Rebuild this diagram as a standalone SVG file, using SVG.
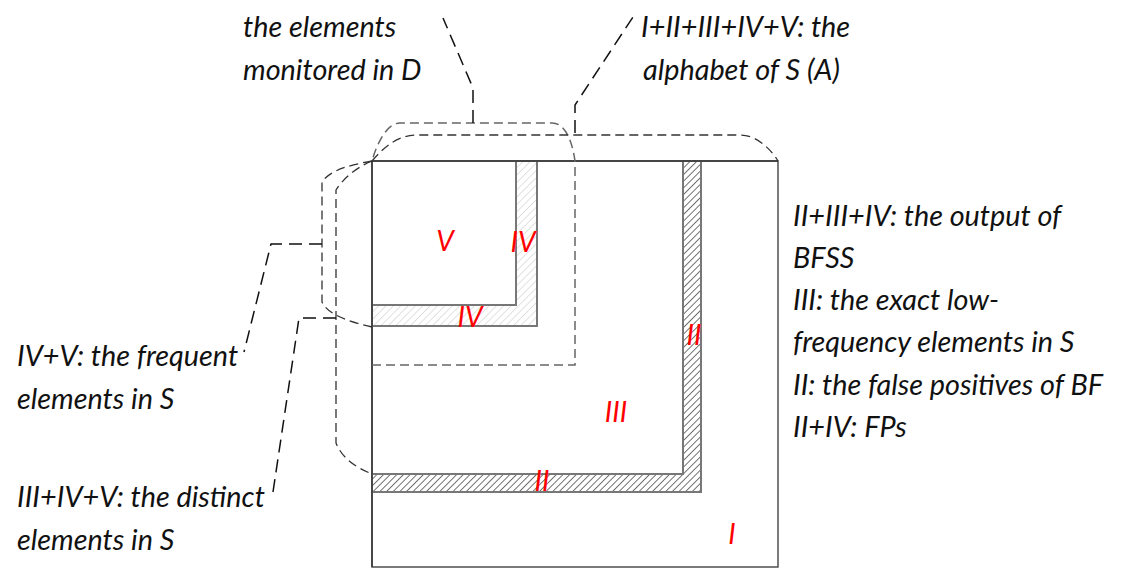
<svg xmlns="http://www.w3.org/2000/svg" width="1124" height="574" viewBox="0 0 1124 574">
<defs>
<pattern id="hatchDark" patternUnits="userSpaceOnUse" width="4.7" height="4.7" patternTransform="rotate(45)">
<rect width="4.7" height="4.7" fill="#ffffff"/>
<line x1="0" y1="0" x2="0" y2="4.7" stroke="#000" stroke-width="1.1"/>
</pattern>
<pattern id="hatchLight" patternUnits="userSpaceOnUse" width="5.2" height="5.2" patternTransform="rotate(45)">
<rect width="5.2" height="5.2" fill="#ffffff"/>
<line x1="0" y1="0" x2="0" y2="5.2" stroke="#c4c4c4" stroke-width="1"/>
</pattern>
</defs>
<style>
.txt{font-family:Lato,"Open Sans","Liberation Sans",sans-serif;font-style:italic;font-size:28.8px;fill:#111}
.lab{font-family:Lato,"Open Sans","Liberation Sans",sans-serif;font-style:italic;font-size:28px;fill:#ff0000;text-anchor:middle}
.dash{fill:none;stroke:#333;stroke-width:1.3;stroke-dasharray:9 5}
.dashg{fill:none;stroke:#666;stroke-width:1.5;stroke-dasharray:9 5}
.lead{fill:none;stroke:#111;stroke-width:1.5;stroke-dasharray:13 7}
.box{stroke:#777;stroke-width:2}
.dark{fill:url(#hatchDark)}
.light{fill:url(#hatchLight)}
</style>
<rect width="1124" height="574" fill="#ffffff"/>

<g id="region-I">
<rect x="372" y="161" width="406" height="406" fill="#ffffff" stroke="#444" stroke-width="1.4"/>
<text class="lab" x="732" y="544">I</text>
</g>

<g id="region-II">
<path d="M372,474 L683,474 L683,161 L701,161 L701,492 L372,492 Z" class="box dark"/>
<text class="lab" x="694" y="345">II</text>
<text class="lab" x="542" y="491">II</text>
</g>

<g id="region-III">
<text class="lab" x="616" y="422">III</text>
</g>

<g id="region-IV">
<path d="M372,305 L516,305 L516,161 L537,161 L537,326 L372,326 Z" class="box light"/>
<text class="lab" x="523" y="252">IV</text>
<text class="lab" x="470" y="327">IV</text>
</g>

<g id="region-V">
<text class="lab" x="445" y="251">V</text>
</g>

<g id="top-edge">
<line x1="372" y1="161" x2="778" y2="161" stroke="#333" stroke-width="1.4"/>
<line x1="372" y1="161" x2="372" y2="567" stroke="#333" stroke-width="1.4"/>
</g>

<g id="connectors">
<path class="dashg" d="M372,365 L575,365 L575,161 C572,140 565,123 552,123 L400,123 C388,123 378,140 372,161"/>
<path class="dash" d="M372,161 C385,146 398,135 418,135 L740,135 C756,135 770,148 778,161"/>
<path class="dash" d="M372,161 C350,165 330,170 322,182 L322,302 C328,315 350,322 372,327"/>
<path class="dash" d="M372,161 C355,168 342,180 336,190 L336,443 C342,458 355,467 372,474"/>
<path class="lead" d="M473,123 L473,88 L443,18"/>
<path class="lead" d="M575,133 L575,105 L633,17"/>
<path class="lead" d="M322,244 L271,244 L244,352"/>
<path class="lead" d="M336,318 L299,318 L273,492"/>
</g>

<g id="label-monitored">
<text class="txt" x="243" y="37">the elements</text>
<text class="txt" x="243" y="80">monitored in D</text>
</g>
<g id="label-alphabet">
<text class="txt" x="641" y="37">I+II+III+IV+V: the</text>
<text class="txt" x="643" y="80">alphabet of S (A)</text>
</g>
<g id="label-right">
<text class="txt" x="793" y="226">II+III+IV: the output of</text>
<text class="txt" x="793" y="268">BFSS</text>
<text class="txt" x="793" y="310">III: the exact low-</text>
<text class="txt" x="793" y="352">frequency elements in S</text>
<text class="txt" x="793" y="395">II: the false positives of BF</text>
<text class="txt" x="793" y="437">II+IV: FPs</text>
</g>
<g id="label-frequent">
<text class="txt" x="17" y="366">IV+V: the frequent</text>
<text class="txt" x="17" y="409">elements in S</text>
</g>
<g id="label-distinct">
<text class="txt" x="17" y="507">III+IV+V: the distinct</text>
<text class="txt" x="17" y="550">elements in S</text>
</g>
</svg>
